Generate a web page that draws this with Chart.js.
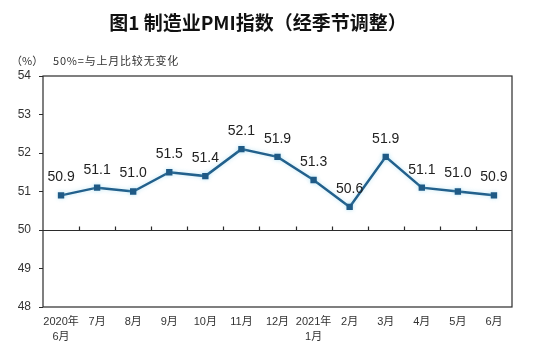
<!DOCTYPE html>
<html>

<head>
    <meta charset="utf-8">
    <title>制造业PMI指数</title>
    <script src="https://cdn.jsdelivr.net/npm/chart.js@4"></script>
    <style>
        html, body { margin: 0; padding: 0; background: #fff; }
        #wrap { width: 556px; height: 349px; }
    </style>
</head>

<body>
    <div id="wrap"><canvas id="pmiChart"></canvas></div>

    <script>
        // chart data
        var months = [['2020年', '6月'], '7月', '8月', '9月', '10月', '11月', '12月',
            ['2021年', '1月'], '2月', '3月', '4月', '5月', '6月'];
        var pmiValues = [50.9, 51.1, 51.0, 51.5, 51.4, 52.1, 51.9, 51.3, 50.6, 51.9, 51.1, 51.0, 50.9];
        var yTicks = [48, 49, 50, 51, 52, 53, 54];
        var baseLine = 50;

        var titleText = '图1 制造业PMI指数（经季节调整）';
        var unitText = '（%）';
        var noteText = '50%=与上月比较无变化';

        // frame, 50 line with small ticks, titles and value labels
        var decorPlugin = {
            id: 'decor',
            beforeDatasetsDraw: function (chart) {
                var ctx = chart.ctx, a = chart.chartArea;
                var x = chart.scales.x, y = chart.scales.y;
                ctx.save();
                ctx.strokeStyle = '#2b2b2b';
                ctx.lineWidth = 1.2;
                ctx.strokeRect(a.left, a.top, a.right - a.left, a.bottom - a.top);
                var y50 = Math.round(y.getPixelForValue(baseLine)) + 0.5;
                ctx.beginPath();
                ctx.moveTo(a.left, y50);
                ctx.lineTo(a.right, y50);
                var step = (a.right - a.left) / months.length;
                for (var i = 1; i < months.length; i++) {
                    var tx = Math.round(x.getPixelForValue(i) - step / 2) + 0.5;
                    ctx.moveTo(tx, y50);
                    ctx.lineTo(tx, y50 - 4);
                }
                ctx.stroke();
                ctx.restore();

                // soft halo under the line
                ctx.save();
                ctx.shadowColor = 'rgba(120, 205, 235, 0.45)';
                ctx.shadowBlur = 4;
            },
            afterDatasetsDraw: function (chart) {
                var ctx = chart.ctx;
                ctx.restore();
                ctx.save();
                ctx.fillStyle = '#222';
                ctx.font = '14px "Liberation Sans", Arial, sans-serif';
                ctx.textAlign = 'center';
                ctx.textBaseline = 'middle';
                chart.getDatasetMeta(0).data.forEach(function (pt, i) {
                    ctx.fillText(pmiValues[i].toFixed(1), pt.x, pt.y - 18);
                });
                ctx.restore();
            },
            afterDraw: function (chart) {
                var ctx = chart.ctx;
                ctx.save();
                ctx.fillStyle = '#111';
                ctx.font = 'bold 19px "Noto Sans CJK SC", sans-serif';
                ctx.textAlign = 'center';
                ctx.textBaseline = 'middle';
                ctx.fillText(titleText, 258, 23);

                ctx.fillStyle = '#333';
                ctx.font = '11px "Noto Sans CJK SC", sans-serif';
                ctx.textAlign = 'left';
                ctx.fillText(unitText, 11, 61);
                ctx.letterSpacing = '0.8px';
                ctx.fillText(noteText, 53, 61);
                ctx.restore();
            }
        };

        var ctx = document.getElementById('pmiChart').getContext('2d');
        var chart = new Chart(ctx, {
            type: 'line',
            data: {
                labels: months,
                datasets: [{
                    data: pmiValues,
                    borderColor: '#22608c',
                    backgroundColor: '#22608c',
                    borderWidth: 2.5,
                    pointStyle: 'rect',
                    pointRadius: 4.5,
                    pointHoverRadius: 4.5,
                    pointBorderWidth: 0,
                    pointBackgroundColor: '#1f5a86',
                    tension: 0
                }]
            },
            options: {
                responsive: true,
                maintainAspectRatio: false,
                animation: false,
                layout: { padding: { top: 76, right: 44, left: 0, bottom: 0 } },
                plugins: {
                    legend: { display: false },
                    tooltip: { enabled: false }
                },
                scales: {
                    x: {
                        offset: true,
                        grid: { display: false, drawTicks: false },
                        border: { display: false },
                        ticks: {
                            padding: 8,
                            color: '#333',
                            maxRotation: 0,
                            autoSkip: false,
                            font: { size: 11, family: '"Liberation Sans", "Noto Sans CJK SC", sans-serif', lineHeight: 1.35 }
                        },
                        afterFit: function (s) { s.height = 42; }
                    },
                    y: {
                        min: yTicks[0],
                        max: yTicks[yTicks.length - 1],
                        afterBuildTicks: function (s) {
                            s.ticks = yTicks.map(function (v) { return { value: v }; });
                        },
                        grid: { drawOnChartArea: false, drawTicks: true, tickLength: 4, color: '#2b2b2b' },
                        border: { display: false },
                        ticks: {
                            padding: 8,
                            color: '#333',
                            font: { size: 12, family: '"Liberation Sans", Arial, sans-serif' }
                        },
                        afterFit: function (s) { s.width = 43; }
                    }
                }
            },
            plugins: [decorPlugin]
        });
    </script>
</body>

</html>
